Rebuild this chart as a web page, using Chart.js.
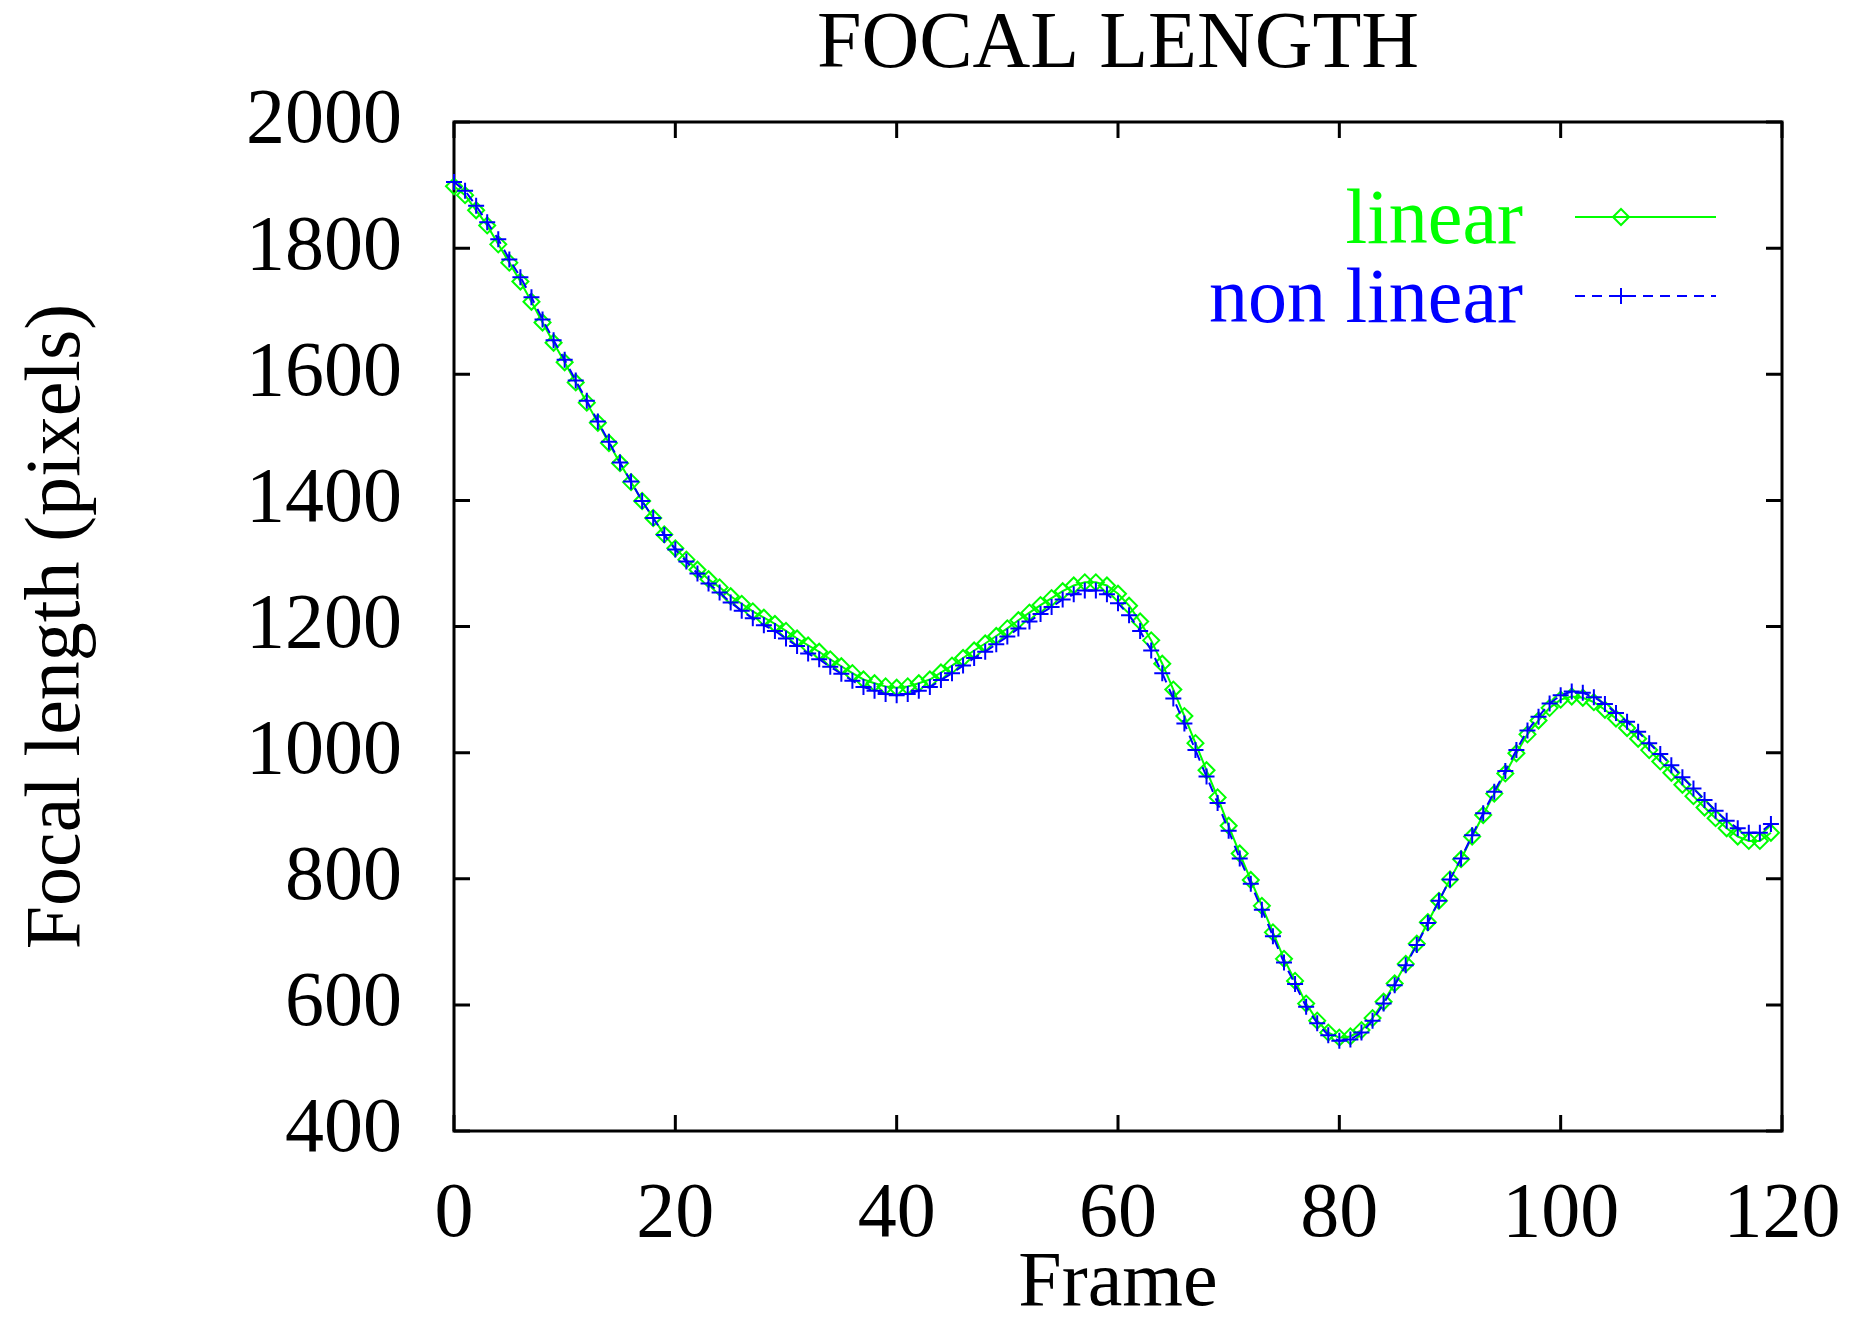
<!DOCTYPE html>
<html>
<head>
<meta charset="utf-8">
<title>Focal length</title>
<script src="https://cdn.jsdelivr.net/npm/chart.js@4.4.1/dist/chart.umd.min.js"></script>
<style>
  html, body { margin: 0; padding: 0; background: #ffffff; }
  canvas { display: block; }
</style>
</head>
<body>
<canvas id="focalChart" width="1853" height="1324"></canvas>
<script>
// Frame index along x (one sample per frame)
const frames = Array.from({ length: 120 }, (_, i) => i);

// Focal length estimates (pixels)
const linearFocal = [
    1898, 1884, 1860, 1836, 1806, 1777, 1747, 1715, 1682, 1650,
    1619, 1587, 1555, 1523, 1491, 1459, 1429, 1399, 1372, 1346,
    1324, 1306, 1290, 1275, 1262, 1248, 1236, 1224, 1214, 1204,
    1193, 1181, 1170, 1160, 1148, 1137, 1126, 1116, 1110, 1105,
    1103, 1105, 1110, 1116, 1127, 1138, 1150, 1162, 1173, 1185,
    1197, 1210, 1222, 1234, 1245, 1256, 1265, 1270, 1270, 1265,
    1252, 1233, 1208, 1178, 1141, 1100, 1058, 1015, 972, 929,
    884, 840, 798, 757, 715, 673, 638, 602, 575, 556,
    548, 550, 560, 579, 605, 634, 665, 697, 731, 765,
    799, 831, 867, 901, 935, 967, 999, 1029, 1051, 1071,
    1084, 1089, 1087, 1080, 1068, 1054, 1039, 1022, 1004, 986,
    968, 949, 931, 913, 896, 880, 867, 860, 860, 873
];

const nonLinearFocal = [
    1905, 1891, 1867, 1841, 1814, 1782, 1754, 1722, 1687, 1654,
    1623, 1590, 1558, 1525, 1493, 1460, 1430, 1399, 1372, 1345,
    1322, 1303, 1284, 1268, 1254, 1238, 1225, 1213, 1202, 1193,
    1181, 1169, 1157, 1148, 1136, 1125, 1114, 1104, 1098, 1093,
    1091, 1093, 1098, 1104, 1115, 1126, 1138, 1150, 1160, 1172,
    1184, 1197, 1208, 1220, 1231, 1243, 1251, 1257, 1257, 1251,
    1237, 1218, 1193, 1162, 1126, 1086, 1046, 1004, 962, 920,
    876, 832, 792, 751, 709, 667, 633, 597, 571, 552,
    543, 545, 556, 575, 602, 631, 663, 695, 730, 765,
    799, 832, 869, 904, 938, 971, 1004, 1035, 1057, 1078,
    1091, 1097, 1095, 1088, 1077, 1063, 1049, 1033, 1015, 998,
    980, 961, 943, 925, 908, 892, 880, 873, 873, 887
];

const xTicks = { min: 0, max: 120, step: 20 };
const yTicks = { min: 400, max: 2000, step: 200 };

const FONT = 'Liberation Serif, Times New Roman, serif';
const TICK_LEN = 16;

// Box + inward (mirrored) tick marks, gnuplot style
const gnuplotFrame = {
    id: 'gnuplotFrame',
    beforeDatasetsDraw(chart) {
        const { ctx, chartArea: a, scales: { x, y } } = chart;
        ctx.save();
        ctx.strokeStyle = '#000000';
        ctx.lineWidth = 3;
        ctx.strokeRect(a.left, a.top, a.right - a.left, a.bottom - a.top);
        ctx.beginPath();
        y.ticks.forEach(t => {
            const py = y.getPixelForValue(t.value);
            ctx.moveTo(a.left, py);
            ctx.lineTo(a.left + TICK_LEN, py);
            ctx.moveTo(a.right, py);
            ctx.lineTo(a.right - TICK_LEN, py);
        });
        x.ticks.forEach(t => {
            const px = x.getPixelForValue(t.value);
            ctx.moveTo(px, a.bottom);
            ctx.lineTo(px, a.bottom - TICK_LEN);
            ctx.moveTo(px, a.top);
            ctx.lineTo(px, a.top + TICK_LEN);
        });
        ctx.stroke();
        ctx.restore();
    }
};

// Key in the top right corner: right-aligned label, then line sample with marker
const gnuplotKey = {
    id: 'gnuplotKey',
    afterDraw(chart) {
        const { ctx, chartArea: a } = chart;
        const rows = [95, 174];
        ctx.save();
        chart.data.datasets.forEach((ds, i) => {
            const yy = a.top + rows[i];
            ctx.font = '78px ' + FONT;
            ctx.textAlign = 'right';
            ctx.textBaseline = 'middle';
            ctx.fillStyle = ds.borderColor;
            ctx.fillText(ds.label, a.right - 259, yy + 6);

            ctx.strokeStyle = ds.borderColor;
            ctx.lineWidth = ds.borderWidth;
            ctx.setLineDash(ds.borderDash || []);
            ctx.beginPath();
            ctx.moveTo(a.right - 207, yy);
            ctx.lineTo(a.right - 66, yy);
            ctx.stroke();
            ctx.setLineDash([]);

            ctx.fillStyle = 'rgba(0,0,0,0)';
            ctx.lineWidth = ds.pointBorderWidth;
            Chart.helpers.drawPoint(ctx, {
                pointStyle: ds.pointStyle,
                radius: ds.pointRadius,
                borderWidth: ds.pointBorderWidth,
                rotation: 0
            }, a.right - 161, yy);
        });
        ctx.restore();
    }
};

const ctx = document.getElementById('focalChart').getContext('2d');
new Chart(ctx, {
    type: 'line',
    data: {
        datasets: [{
            label: 'linear',
            data: frames.map((f, i) => ({ x: f, y: linearFocal[i] })),
            borderColor: '#00ff00',
            borderWidth: 2,
            pointStyle: 'rectRot',
            pointRadius: 8,
            pointBorderWidth: 2,
            pointBorderColor: '#00ff00',
            pointBackgroundColor: 'rgba(0,0,0,0)',
            tension: 0,
            clip: false,
            order: 1
        }, {
            label: 'non linear',
            data: frames.map((f, i) => ({ x: f, y: nonLinearFocal[i] })),
            borderColor: '#0000ff',
            borderWidth: 2,
            borderDash: [10, 7],
            pointStyle: 'cross',
            pointRadius: 8,
            pointBorderWidth: 2,
            pointBorderColor: '#0000ff',
            pointBackgroundColor: 'rgba(0,0,0,0)',
            tension: 0,
            clip: false,
            order: 0
        }]
    },
    options: {
        responsive: false,
        animation: false,
        events: [],
        layout: {
            padding: { top: 0, left: 0, right: 71, bottom: 0 }
        },
        plugins: {
            legend: { display: false },
            tooltip: { enabled: false },
            title: {
                display: true,
                text: 'FOCAL LENGTH',
                fullSize: false,
                color: '#000000',
                font: { family: FONT, size: 80, weight: 'normal', lineHeight: 1 },
                padding: { top: 6, bottom: 36 }
            }
        },
        scales: {
            x: {
                type: 'linear',
                min: xTicks.min,
                max: xTicks.max,
                grid: { display: false, drawTicks: false },
                border: { display: false },
                ticks: {
                    stepSize: xTicks.step,
                    color: '#000000',
                    padding: 38,
                    maxRotation: 0,
                    font: { family: FONT, size: 78 },
                    callback: v => String(v)
                },
                title: {
                    display: true,
                    text: 'Frame',
                    color: '#000000',
                    font: { family: FONT, size: 78, lineHeight: 1 },
                    padding: { top: 0, bottom: 0 }
                },
                afterFit(scale) {
                    scale.height = 193;
                    scale.paddingLeft = 0;
                    scale.paddingRight = 0;
                }
            },
            y: {
                min: yTicks.min,
                max: yTicks.max,
                grid: { display: false, drawTicks: false },
                border: { display: false },
                ticks: {
                    stepSize: yTicks.step,
                    color: '#000000',
                    padding: 52,
                    font: { family: FONT, size: 78 },
                    callback: v => String(v)
                },
                title: {
                    display: true,
                    text: 'Focal length (pixels)',
                    color: '#000000',
                    font: { family: FONT, size: 78, lineHeight: 1 },
                    padding: { top: 20, bottom: 0 }
                },
                afterFit(scale) {
                    scale.width = 454;
                    scale.paddingTop = 0;
                    scale.paddingBottom = 0;
                }
            }
        }
    },
    plugins: [gnuplotFrame, gnuplotKey]
});
</script>
</body>
</html>
